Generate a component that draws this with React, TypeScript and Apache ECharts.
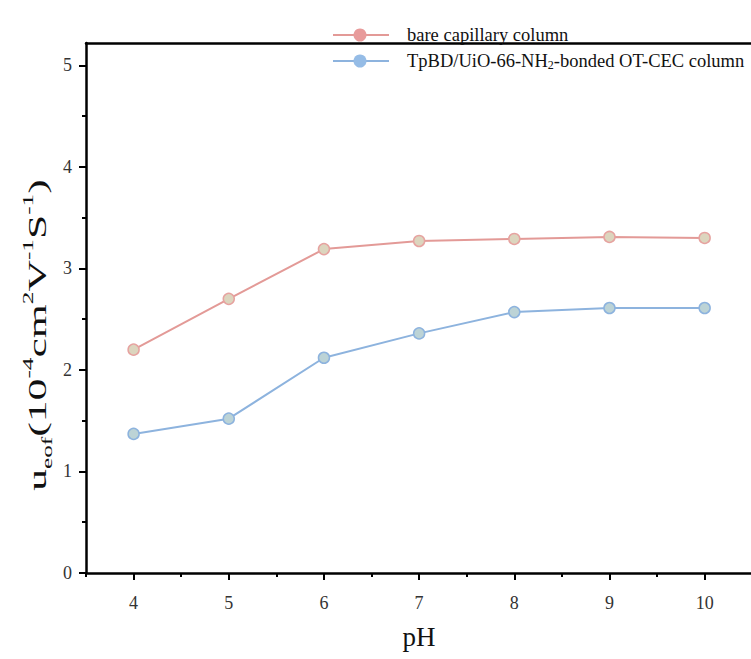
import React, { useEffect, useRef } from "react";
import * as echarts from "echarts";

const pH = [4, 5, 6, 7, 8, 9, 10];
const bareValues = [2.2, 2.7, 3.19, 3.27, 3.29, 3.31, 3.3];
const bondedValues = [1.37, 1.52, 2.12, 2.36, 2.57, 2.61, 2.61];
const seriesNames = ["bare capillary column", "TpBD/UiO-66-NH2-bonded OT-CEC column"];
const xMajorTicks = { min: 4, max: 10, interval: 1 };
const yMajorTicks = { min: 0, max: 5, interval: 1 };

const SERIF = "'Liberation Serif', 'DejaVu Serif', serif";

export default function App() {
  const ref = useRef<HTMLDivElement>(null);
  useEffect(() => {
    if (!ref.current) return;
    const chart = echarts.init(ref.current, undefined, { renderer: "svg" });

    const W = 751, H = 659;
    const L = 86, T = 43, B = 86;
    const xMinA = 3.5, xMaxA = 10.55;
    const yMaxA = 5.22;
    const plotW = W + 6 - L;
    const pxPerX = plotW / (xMaxA - xMinA);
    const plotH = H - B - T;
    const pxPerY = plotH / yMaxA;
    const top5 = H - B - 5 * pxPerY;
    const x4 = L + (4 - xMinA) * pxPerX;
    const x10 = L + (10 - xMinA) * pxPerX;
    const x105 = L + (10.5 - xMinA) * pxPerX;

    const red = "#E39A97";
    const blue = "#8DB3DE";
    const nb = { outerBoundsMode: "none", containLabel: false };
    const frameLine = { show: true, lineStyle: { color: "#000", width: 2.5 } };
    const onlyLine = {
      axisLine: frameLine,
      axisTick: { show: false },
      axisLabel: { show: false },
      splitLine: { show: false },
    };

    const LEG_FS = 18.5;
    const legendRow = (y: number, color: string, dot: string, text: string, rich: any) => [
      { type: "line", shape: { x1: 333, y1: y, x2: 389, y2: y }, style: { stroke: color, lineWidth: 2 }, z: 10 },
      { type: "circle", shape: { cx: 360, cy: y, r: 6.5 }, style: { fill: dot }, z: 11 },
      {
        type: "text", x: 407, y: y, z: 10,
        style: { text, rich, fontFamily: SERIF, fontSize: LEG_FS, fill: "#111", verticalAlign: "middle", align: "left" },
      },
    ];

    const legRich = {
      n: { fontFamily: SERIF, fontSize: LEG_FS, fill: "#111", color: "#111" },
      s: { fontFamily: SERIF, fontSize: 12, fill: "#111", color: "#111", verticalAlign: "bottom", padding: [8, 0, 0, 0] },
    };

    chart.setOption({
      animation: false,
      backgroundColor: "#ffffff",
      grid: [
        { left: L, right: -6, top: T, bottom: B, ...nb },
        { left: L, right: W - x105, top: top5, bottom: B, ...nb },
        { left: x4, right: W - x10, top: top5, bottom: B, ...nb },
      ],
      xAxis: [
        { type: "value", gridIndex: 0, min: xMinA, max: xMaxA, position: "bottom", ...onlyLine },
        {
          type: "value", gridIndex: 1, min: 3.5, max: 10.5, interval: 0.5,
          axisLine: { show: false }, splitLine: { show: false },
          axisTick: { show: true, length: 4, lineStyle: { color: "#000", width: 2 } },
          axisLabel: { show: false },
        },
        {
          type: "value", gridIndex: 2, min: xMajorTicks.min, max: xMajorTicks.max, interval: xMajorTicks.interval,
          axisLine: { show: false }, splitLine: { show: false },
          axisTick: { show: true, length: 7, lineStyle: { color: "#000", width: 2 } },
          axisLabel: { show: true, margin: 21, fontSize: 18, fontFamily: SERIF, color: "#333" },
          name: "pH", nameLocation: "middle", nameGap: 50,
          nameTextStyle: { fontSize: 27, fontFamily: SERIF, color: "#111" },
        },
        { type: "value", gridIndex: 0, min: xMinA, max: xMaxA, position: "top", ...onlyLine },
      ],
      yAxis: [
        { type: "value", gridIndex: 0, min: 0, max: yMaxA, position: "left", ...onlyLine },
        {
          type: "value", gridIndex: 1, min: 0, max: 5, interval: 0.5,
          axisLine: { show: false }, splitLine: { show: false },
          axisTick: { show: true, length: 4, lineStyle: { color: "#000", width: 2 } },
          axisLabel: { show: false },
        },
        {
          type: "value", gridIndex: 2, min: yMajorTicks.min, max: yMajorTicks.max, interval: yMajorTicks.interval,
          offset: x4 - L,
          axisLine: { show: false }, splitLine: { show: false },
          axisTick: { show: true, length: 7, lineStyle: { color: "#000", width: 2 } },
          axisLabel: { show: true, margin: 14, fontSize: 18, fontFamily: SERIF, color: "#333" },
        },
      ],
      series: [
        {
          name: seriesNames[0],
          type: "line",
          xAxisIndex: 0,
          yAxisIndex: 0,
          data: pH.map((x, i) => [x, bareValues[i]]),
          symbol: "circle",
          symbolSize: 11,
          lineStyle: { color: red, width: 2 },
          itemStyle: { color: "#DCD5BE", borderColor: "#E6A3A0", borderWidth: 1.5 },
        },
        {
          name: seriesNames[1],
          type: "line",
          xAxisIndex: 0,
          yAxisIndex: 0,
          data: pH.map((x, i) => [x, bondedValues[i]]),
          symbol: "circle",
          symbolSize: 11,
          lineStyle: { color: blue, width: 2 },
          itemStyle: { color: "#BCD3D6", borderColor: "#8DB3DE", borderWidth: 1.5 },
        },
      ],
      graphic: [
        ...legendRow(35, red, "#E89B9B", "{n|" + seriesNames[0] + "}", legRich),
        ...legendRow(61, blue, "#95BCE6", "{n|TpBD/UiO-66-NH}{s|2}{n|-bonded OT-CEC column}", legRich),
        {
          type: "text",
          x: 37,
          y: 335,
          rotation: Math.PI / 2,
          scaleX: 1.68,
          style: {
            text: "{m|u}{sb|eof}{m|(10}{sp|-4}{m|cm}{sp|2}{m|V}{sp|-1}{m|S}{sp|-1}{m|)}",
            align: "center",
            verticalAlign: "middle",
            rich: {
              m: { fontFamily: SERIF, fontSize: 26, fill: "#111", color: "#111", lineHeight: 34 },
              sp: { fontFamily: SERIF, fontSize: 15, fill: "#111", color: "#111", verticalAlign: "top", lineHeight: 34, padding: [0, 0, 10, 0] },
              sb: { fontFamily: SERIF, fontSize: 15, fill: "#111", color: "#111", verticalAlign: "bottom", lineHeight: 34, padding: [8, 0, 0, 0] },
            },
          },
        },
      ],
    });
    return () => chart.dispose();
  }, []);
  return (
    <div
      ref={ref}
      style={{ position: "fixed", left: 0, top: 0, width: 751, height: 659, overflow: "hidden" }}
    />
  );
}
